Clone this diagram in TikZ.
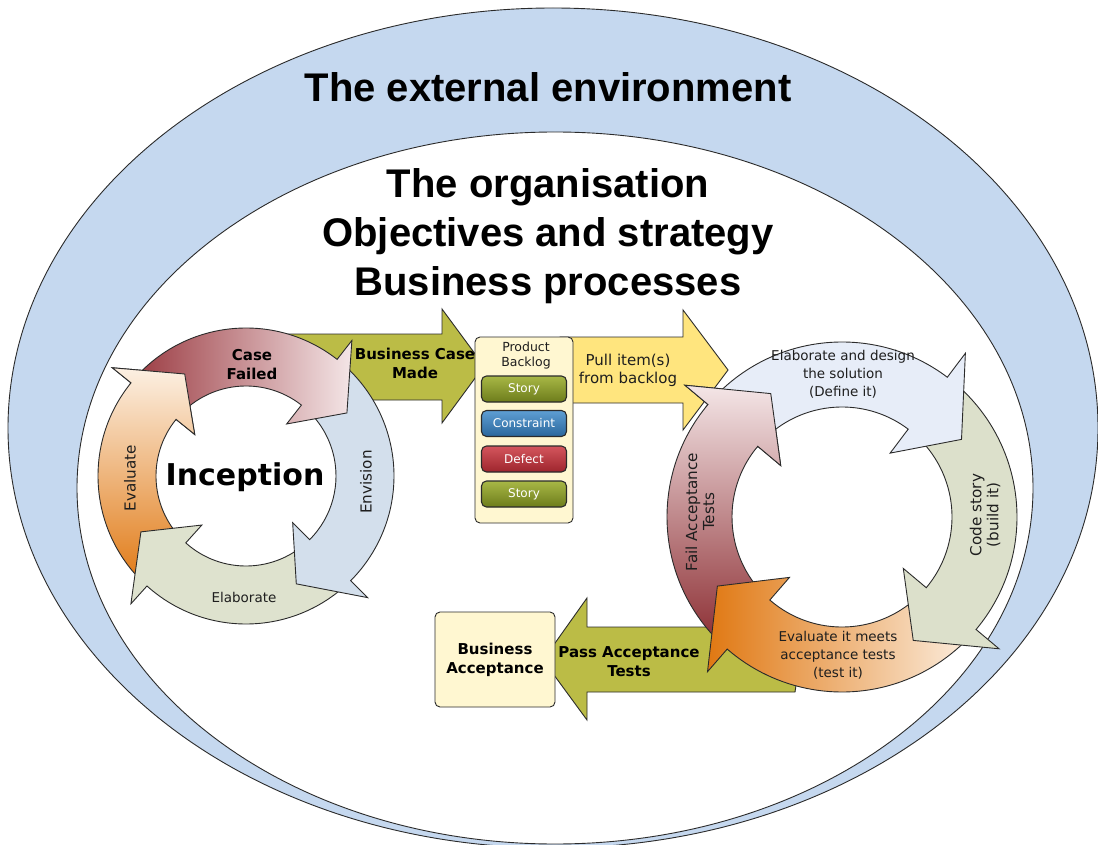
\documentclass[tikz,border=0pt]{standalone}
\usepackage{fontspec}
\setmainfont{DejaVu Sans}
\newfontfamily\ttlfont{Liberation Sans}
\usetikzlibrary{calc}
\definecolor{envblue}{HTML}{C5D8EF}
\definecolor{linec}{HTML}{2B2B2B}
\definecolor{olive}{HTML}{BBBC46}
\definecolor{pullyel}{HTML}{FFE57E}
\definecolor{boxfill}{HTML}{FFF7D1}
\definecolor{redD}{HTML}{9A3940}
\definecolor{redL}{HTML}{F4E6E7}
\definecolor{redDD}{HTML}{8A2A2F}
\definecolor{orD}{HTML}{E07812}
\definecolor{orL}{HTML}{FCF0E3}
\definecolor{envis}{HTML}{D3DFEC}
\definecolor{elab}{HTML}{DEE2CE}
\definecolor{design}{HTML}{E7EDF8}
\definecolor{codec}{HTML}{DCE0CB}
\definecolor{storyT}{HTML}{A8B846}
\definecolor{storyB}{HTML}{6D7C1B}
\definecolor{consT}{HTML}{5E9ED3}
\definecolor{consB}{HTML}{2A679C}
\definecolor{defT}{HTML}{D4565D}
\definecolor{defB}{HTML}{9E252D}
\definecolor{txt}{HTML}{1E1E1E}
\tikzset{
 ring/.style n args={7}{insert path={([shift={(#5:#3)}]#1) arc[start angle=#5, end angle=#6, radius=#3] -- ([shift={(#6:{#3+#4})}]#1) -- ([shift={({#6+#7}:{(#2+#3)/2})}]#1) -- ([shift={(#6:{#2-#4})}]#1) -- ([shift={(#6:#2)}]#1) arc[start angle=#6, end angle=#5, radius=#2] -- cycle}},
 wedge/.style n args={4}{insert path={(#1) -- ([shift={({#2-1}:#4)}]#1) -- ([shift={({#2+#3/2}:#4)}]#1) -- ([shift={({#2+#3+3}:#4)}]#1) -- cycle}},
 outl/.style={draw=linec, line width=0.9pt},
 lbl/.style={inner sep=0pt, text=txt, font=\fontsize{13.5}{18}\selectfont, align=center},
 rlbl/.style={lbl, rotate=90, font=\fontsize{15.2}{17}\selectfont},
 blbl/.style={inner sep=0pt, text=black, font=\bfseries\fontsize{15}{19}\selectfont, align=center},
 ttl/.style={inner sep=0pt, font=\ttlfont\bfseries\fontsize{40}{48}\selectfont, anchor=base},
 box/.style={outl, fill=boxfill, rounded corners=5pt},
 item/.style={draw=linec, line width=1.1pt, rounded corners=5pt, minimum width=85pt, minimum height=26pt, inner sep=0pt, text=white, font=\fontsize{12}{14}\selectfont},
}
\begin{document}
\begin{tikzpicture}[x=1pt,y=-1pt]
\useasboundingbox (0,0) rectangle (1098,845);
\clip (0,0) rectangle (1098,845);
\fill[white] (0,0) rectangle (1098,845);
% environment and organisation
\draw[outl, fill=envblue] (553,428) ellipse [x radius=545, y radius=420];
\draw[outl, fill=white] (555,488) ellipse [x radius=478, y radius=356];
\node[ttl] (t1) at (548,102) {The external environment};
\node[ttl] (t2) at (548,198) {The organisation};
\node[ttl] (t3) at (548,247) {Objectives and strategy};
\node[ttl] (t4) at (548,295) {Business processes};
\coordinate (LC) at (246,476);
\coordinate (RC) at (842,517);
% business case made arrow
\draw[outl, fill=olive] (275,334) -- (442,334) -- (442,309) -- (484,366) -- (442,423) -- (442,400) -- (305,400) -- cycle;
% inception cycle
\path[outl, top color=orL, bottom color=orD, ring={LC}{90}{148}{24}{132}{219}{20}];
\path[outl, fill=elab, ring={LC}{90}{148}{24}{45}{132}{20}];
\path[outl, fill=envis, ring={LC}{90}{148}{24}{-52}{45}{20}];
\path[outl, left color=redD, right color=redL, ring={LC}{90}{148}{24}{-141}{-52}{20}];
\begin{scope}
\clip[wedge={LC}{219}{20}{230}];
\path[outl, top color=orL, bottom color=orD, ring={LC}{90}{148}{24}{132}{219}{20}];
\end{scope}
% pull arrow and backlog
\draw[outl, fill=pullyel] (560,337) -- (683,337) -- (683,310) -- (728,370) -- (683,430) -- (683,403) -- (560,403) -- cycle;
\draw[box] (475,337) rectangle (573,523);
\node[lbl, font=\fontsize{12.5}{15}\selectfont] (pb) at (526,356) {Product\\Backlog};
\node[item, top color=storyT, bottom color=storyB] (s1) at (524,389) {Story};
\node[item, top color=consT, bottom color=consB] (c1) at (524,423.5) {Constraint};
\node[item, top color=defT, bottom color=defB] (d1) at (524,459) {Defect};
\node[item, top color=storyT, bottom color=storyB] (s2) at (524,494) {Story};
% pass arrow
\draw[outl, fill=olive] (805,627) -- (587,627) -- (587,598) -- (543,660) -- (587,720) -- (587,692) -- (795,692) -- cycle;
% delivery cycle
\path[outl, top color=redL, bottom color=redDD, ring={RC}{110}{175}{30}{131}{220}{20}];
\path[outl, left color=orD, right color=orL, ring={RC}{110}{175}{30}{40}{131}{20}];
\path[outl, fill=codec, ring={RC}{110}{175}{30}{-53}{40}{20}];
\path[outl, fill=design, ring={RC}{110}{175}{30}{-140}{-53}{20}];
\begin{scope}
\clip[wedge={RC}{220}{20}{260}];
\path[outl, top color=redL, bottom color=redDD, ring={RC}{110}{175}{30}{131}{220}{20}];
\end{scope}
% business acceptance
\node[box, minimum width=120pt, minimum height=95pt, inner sep=0pt] (ba) at (495,659.5) {};
\node[blbl] (bat) at (495,659.5) {Business\\Acceptance};
% labels
\node[blbl] (cf) at (252,365) {Case\\Failed};
\node[rlbl] (ev) at (130,478) {Evaluate};
\node[rlbl] (en) at (366,482) {Envision};
\node[lbl] (el) at (244,597) {Elaborate};
\node[inner sep=0pt, font=\bfseries\fontsize{30}{34}\selectfont] (inc) at (245,477) {Inception};
\node[blbl] (bcm) at (415,363) {Business Case\\Made};
\node[lbl, font=\fontsize{15}{18}\selectfont] (pull) at (628,370) {Pull item(s)\\from backlog};
\node[lbl] (des) at (843,374) {Elaborate and design\\the solution\\(Define it)};
\node[rlbl] (cs) at (985,515) {Code story\\(build it)};
\node[rlbl] (fat) at (700,512) {Fail Acceptance\\Tests};
\node[lbl] (eim) at (838,655) {Evaluate it meets\\acceptance tests\\(test it)};
\node[blbl] (pat) at (629,662) {Pass Acceptance\\Tests};
\end{tikzpicture}
\end{document}
